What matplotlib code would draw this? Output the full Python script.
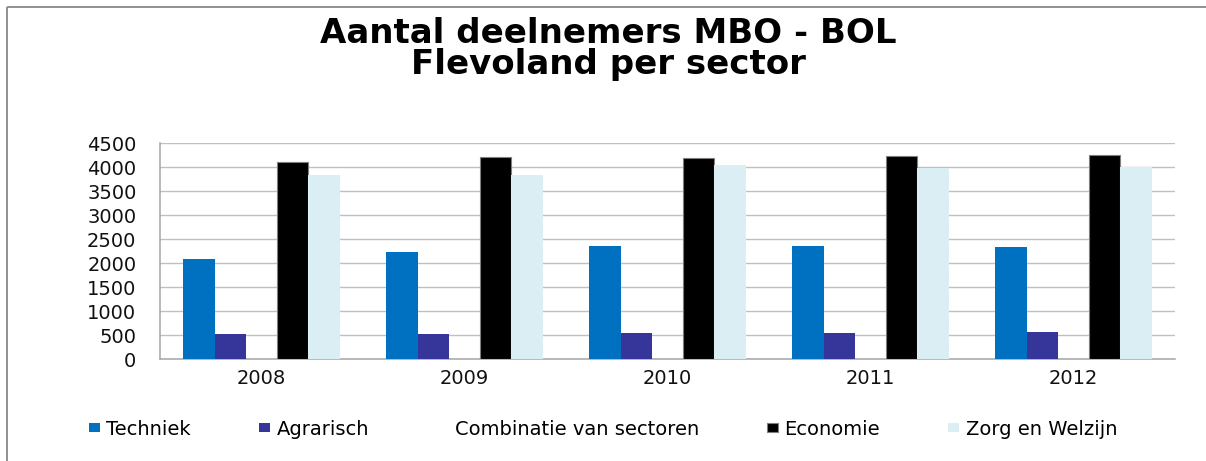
import numpy as np
import matplotlib
matplotlib.use("Agg")
import matplotlib.pyplot as plt
from matplotlib.lines import Line2D

years = ["2008", "2009", "2010", "2011", "2012"]
series_names = ["Techniek", "Agrarisch", "Combinatie van sectoren", "Economie", "Zorg en Welzijn"]
techniek = [2080, 2230, 2360, 2360, 2330]
agrarisch = [520, 520, 555, 555, 570]
combinatie = [0, 0, 0, 0, 0]
economie = [4110, 4210, 4195, 4245, 4260]
zorg = [3840, 3830, 4055, 3980, 4005]
yticks = [0, 500, 1000, 1500, 2000, 2500, 3000, 3500, 4000, 4500]

colors = ["#0070C0", "#35359A", "#FFFFFF", "#000000", "#DAEEF3"]
edges = ["none", "none", "none", "#7F7F7F", "none"]

plt.rcParams['font.family'] = ['DejaVu Sans']

W, H = 1206, 461
fig = plt.figure(figsize=(W / 100, H / 100), dpi=100)
left, right, top, bottom = 160, 1175, 143.3, 359.3
ax = fig.add_axes([left / W, 1 - bottom / H, (right - left) / W, (bottom - top) / H])

x = np.arange(len(years))
bw = 0.1537
data = [techniek, agrarisch, combinatie, economie, zorg]
handles = []
for i, (name, vals) in enumerate(zip(series_names, data)):
    b = ax.bar(x + (i - 2) * bw, vals, width=bw, color=colors[i],
               edgecolor=edges[i], linewidth=0.8 if edges[i] != "none" else 0,
               label=name, zorder=3)
    handles.append(b)

ax.set_xlim(-0.5, len(years) - 0.5)
ax.set_ylim(0, 4500)
ax.set_yticks(yticks)
ax.set_yticklabels([str(v) for v in yticks])
ax.set_xticks(x)
ax.set_xticklabels(years)
ax.yaxis.grid(True, color="#C0C0C0", linewidth=1.0)
ax.set_axisbelow(True)
for s in ["top", "right"]:
    ax.spines[s].set_visible(False)
for s in ["left", "bottom"]:
    ax.spines[s].set_color("#A6A6A6")
    ax.spines[s].set_linewidth(1.1)
ax.tick_params(axis="y", length=0, pad=17, labelsize=14, labelcolor="#111111")
ax.tick_params(axis="x", length=0, pad=7, labelsize=14, labelcolor="#111111")

fig.text(608 / W, 1 - 43.3 / H, "Aantal deelnemers MBO - BOL", ha="center", va="baseline",
         fontsize=24.5, fontweight="bold")
fig.text(608 / W, 1 - 73.5 / H, "Flevoland per sector", ha="center", va="baseline",
         fontsize=24.5, fontweight="bold")

fig.legend(handles=handles, labels=series_names, ncol=5, loc="center left",
           bbox_to_anchor=(89 / W, 1 - 429 / H), frameon=False, fontsize=14,
           handlelength=0.55, handleheight=0.3, handletextpad=0.35,
           columnspacing=3.5, borderpad=0, borderaxespad=0)

# outer chart border (top and left visible in the crop)
fig.add_artist(Line2D([6.5 / W, 1], [1 - 7.5 / H, 1 - 7.5 / H], transform=fig.transFigure,
                      color="#909090", linewidth=1.4, solid_capstyle="butt"))
fig.add_artist(Line2D([6.5 / W, 6.5 / W], [0, 1 - 7.5 / H], transform=fig.transFigure,
                      color="#909090", linewidth=1.4, solid_capstyle="butt"))

fig.savefig("out.png", dpi=100)
